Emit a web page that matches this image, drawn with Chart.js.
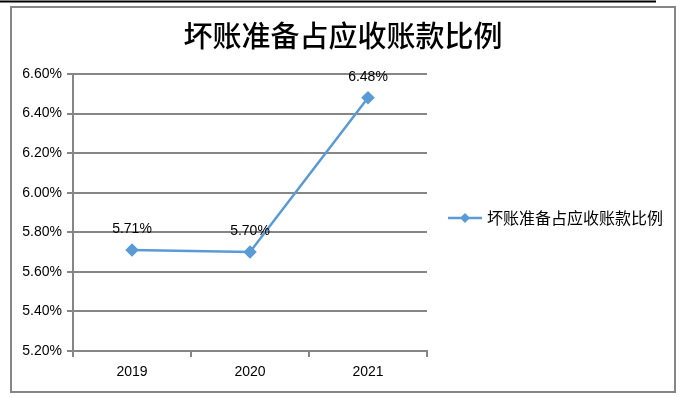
<!DOCTYPE html>
<html>
<head>
<meta charset="utf-8">
<style>
  html, body { margin: 0; padding: 0; background: #fff; }
  #wrap { width: 691px; height: 397px; }
</style>
<script src="https://cdn.jsdelivr.net/npm/chart.js@4/dist/chart.umd.min.js"></script>
</head>
<body>
<div id="wrap"><canvas id="c" width="691" height="397"></canvas></div>
<script>
const years = ['2019', '2020', '2021'];
const ratios = [5.71, 5.70, 6.48];
const yTicks = [5.2, 5.4, 5.6, 5.8, 6.0, 6.2, 6.4, 6.6];
const seriesName = '坏账准备占应收账款比例';
const titleText = '坏账准备占应收账款比例';

const blue = '#5B9BD5';
const gridGray = '#868686';
const labelFont = '"Liberation Sans", Arial, sans-serif';

// frame, title, legend and value labels
const decorations = {
  id: 'decorations',
  beforeDraw(chart) {
    const ctx = chart.ctx;
    ctx.save();
    ctx.fillStyle = '#fff';
    ctx.fillRect(0, 0, chart.width, chart.height);
    // black line on top of the page
    ctx.strokeStyle = '#000';
    ctx.lineWidth = 2;
    ctx.beginPath();
    ctx.moveTo(0, 1.5);
    ctx.lineTo(656, 1.5);
    ctx.stroke();
    // outer border
    ctx.strokeStyle = gridGray;
    ctx.lineWidth = 2;
    ctx.strokeRect(11, 7, 664, 385);
    ctx.restore();
  },
  afterDraw(chart) {
    const ctx = chart.ctx;
    ctx.save();
    // title
    ctx.fillStyle = '#000';
    ctx.font = '500 29px "Noto Sans CJK SC"';
    ctx.textAlign = 'center';
    ctx.textBaseline = 'middle';
    ctx.fillText(titleText, 343, 36);

    // value labels
    const meta = chart.getDatasetMeta(0);
    ctx.font = '14px ' + labelFont;
    meta.data.forEach((pt, i) => {
      ctx.fillText(ratios[i].toFixed(2) + '%', pt.x, pt.y - 21);
    });

    // legend
    const ly = 218;
    ctx.strokeStyle = blue;
    ctx.lineWidth = 2.5;
    ctx.beginPath();
    ctx.moveTo(448, ly);
    ctx.lineTo(482, ly);
    ctx.stroke();
    ctx.fillStyle = blue;
    ctx.beginPath();
    ctx.moveTo(465, ly - 5);
    ctx.lineTo(470, ly);
    ctx.lineTo(465, ly + 5);
    ctx.lineTo(460, ly);
    ctx.closePath();
    ctx.fill();
    ctx.fillStyle = '#000';
    ctx.font = '16px "Noto Sans CJK SC"';
    ctx.textAlign = 'left';
    ctx.fillText(seriesName, 487, ly);
    ctx.restore();
  }
};

new Chart(document.getElementById('c'), {
  type: 'line',
  data: {
    labels: years,
    datasets: [{
      label: seriesName,
      data: ratios,
      borderColor: blue,
      backgroundColor: blue,
      borderWidth: 2.5,
      pointStyle: 'rectRot',
      pointRadius: 5,
      pointHoverRadius: 5,
      tension: 0,
      fill: false
    }]
  },
  options: {
    responsive: false,
    animation: false,
    layout: { padding: { top: 74, left: 0, right: 264, bottom: 0 } },
    plugins: {
      legend: { display: false },
      title: { display: false },
      tooltip: { enabled: false }
    },
    scales: {
      x: {
        offset: true,
        afterFit(scale) { scale.height = 46; },
        grid: {
          offset: true,
          drawOnChartArea: false,
          drawTicks: true,
          tickLength: 6,
          color: gridGray,
          lineWidth: 2
        },
        border: { display: true, color: gridGray, width: 2 },
        ticks: {
          padding: 7,
          color: '#000',
          font: { family: labelFont, size: 14 }
        }
      },
      y: {
        min: 5.2,
        max: 6.6,
        afterFit(scale) { scale.width = 73; },
        afterBuildTicks(scale) {
          scale.ticks = yTicks.map(v => ({ value: v }));
        },
        grid: {
          drawTicks: true,
          tickLength: 6,
          color: gridGray,
          lineWidth: 2
        },
        border: { display: true, color: gridGray, width: 2 },
        ticks: {
          padding: 5,
          color: '#000',
          font: { family: labelFont, size: 14 },
          callback: v => v.toFixed(2) + '%'
        }
      }
    }
  },
  plugins: [decorations]
});
</script>
</body>
</html>
